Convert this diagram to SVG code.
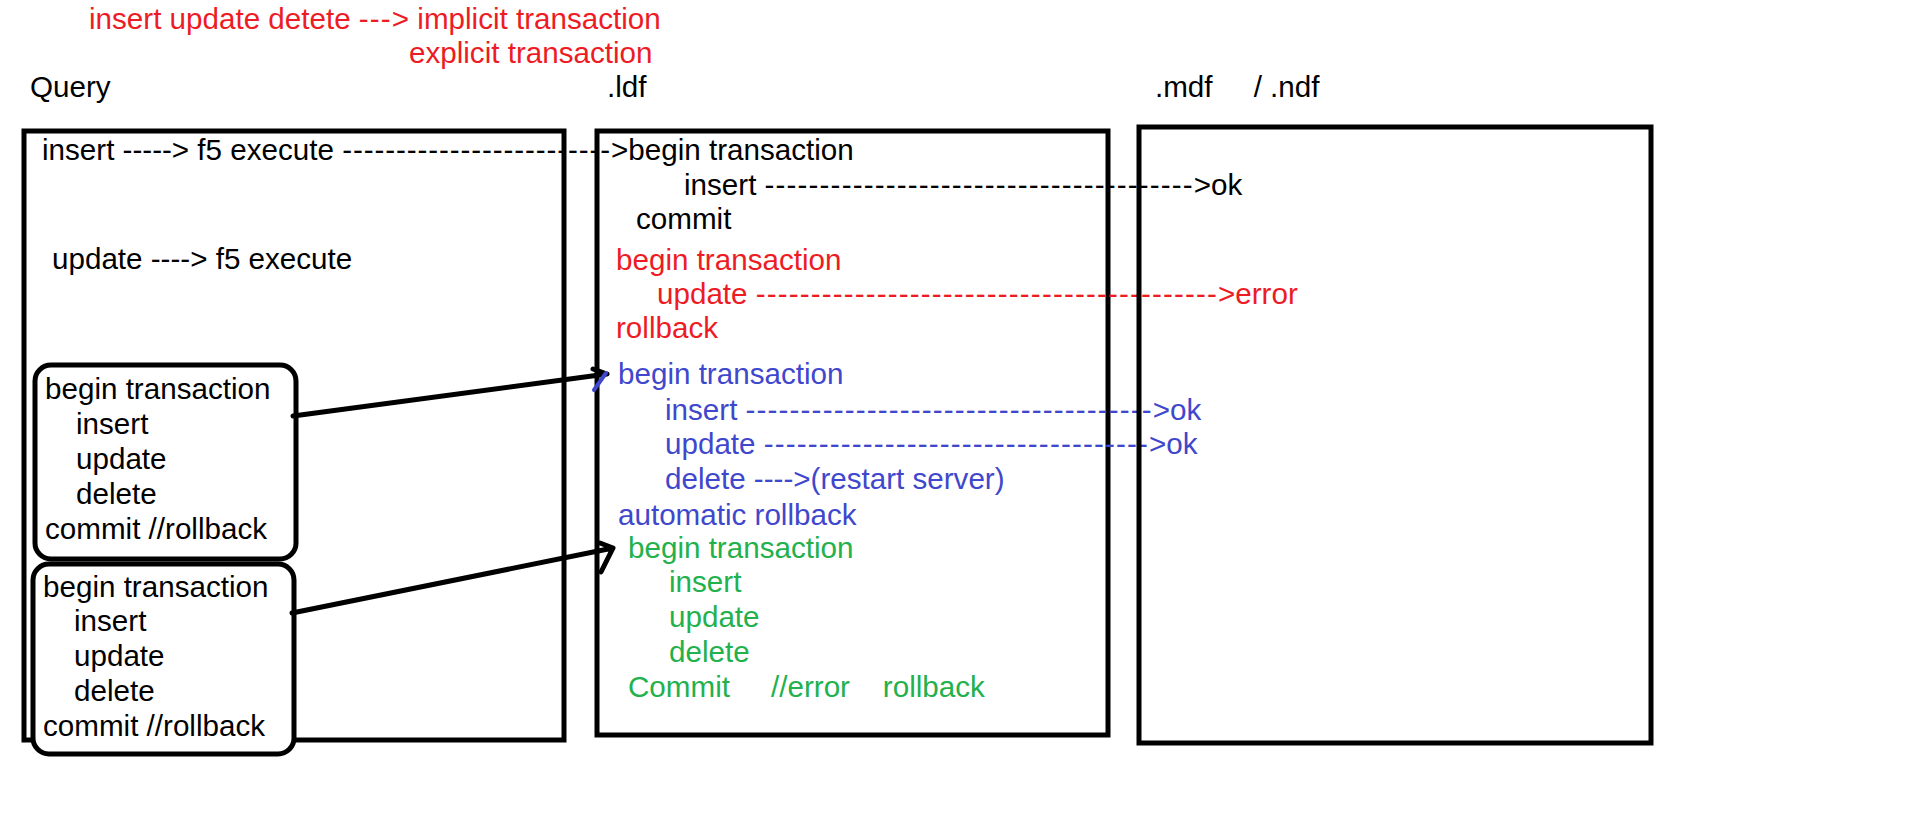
<svg xmlns="http://www.w3.org/2000/svg" width="1914" height="813" viewBox="0 0 1914 813">
<style>
text{font-family:"Liberation Sans",Arial,sans-serif;font-size:29.6px;}
.d{letter-spacing:1.15px}
.d2{letter-spacing:0.9px}
.k{fill:#000}.r{fill:#ED1C24}.b{fill:#3F48CC}.g{fill:#22B14C}
.box{fill:none;stroke:#000;stroke-width:5}
.rbox{fill:#fff;stroke:#000;stroke-width:5}
.conn{fill:none;stroke:#000;stroke-width:5;stroke-linecap:round;stroke-linejoin:round}
</style>
<rect width="1914" height="813" fill="#fff"/>
<g id="title">
<text class="r" x="89" y="29">insert update detete <tspan class="d">---</tspan>&gt; implicit transaction</text>
<text class="r" x="409" y="63">explicit transaction</text>
</g>
<g id="query">
<text class="k" x="30" y="97">Query</text>
<rect class="box" x="24" y="131" width="540" height="609"/>
<text class="k" x="42" y="160">insert -----&gt; f5 execute <tspan class="d2">-------------------------</tspan>&gt;begin transaction</text>
<text class="k" x="52" y="269">update ----&gt; f5 execute</text>
</g>
<g id="ldf">
<text class="k" x="607" y="97">.ldf</text>
<rect class="box" x="597" y="131" width="511" height="604"/>
<text class="k" x="684" y="195">insert <tspan class="d">---------------------------------------</tspan>&gt;ok</text>
<text class="k" x="636" y="229">commit</text>
<text class="r" x="616" y="270">begin transaction</text>
<text class="r" x="657" y="304">update <tspan class="d">------------------------------------------</tspan>&gt;error</text>
<text class="r" x="616" y="338">rollback</text>
<text class="b" x="618" y="384">begin transaction</text>
<text class="b" x="665" y="420">insert <tspan class="d">-------------------------------------</tspan>&gt;ok</text>
<text class="b" x="665" y="454">update <tspan class="d">-----------------------------------</tspan>&gt;ok</text>
<text class="b" x="665" y="489">delete ----&gt;(restart server)</text>
<text class="b" x="618" y="525">automatic rollback</text>
<text class="g" x="628" y="558">begin transaction</text>
<text class="g" x="669" y="592">insert</text>
<text class="g" x="669" y="627">update</text>
<text class="g" x="669" y="662">delete</text>
<text class="g" x="628" y="697" xml:space="preserve">Commit     //error    rollback</text>
</g>
<g id="mdf">
<text class="k" x="1155" y="97" xml:space="preserve">.mdf     / .ndf</text>
<rect class="box" x="1139" y="127" width="512" height="616"/>
</g>
<g id="tx1">
<rect class="rbox" x="35" y="365" width="261" height="194" rx="16"/>
<text class="k" x="45" y="399">begin transaction</text>
<text class="k" x="76" y="434">insert</text>
<text class="k" x="76" y="469">update</text>
<text class="k" x="76" y="504">delete</text>
<text class="k" x="45" y="539">commit //rollback</text>
</g>
<g id="tx2">
<rect class="rbox" x="33" y="564" width="261" height="190" rx="16"/>
<text class="k" x="43" y="597">begin transaction</text>
<text class="k" x="74" y="631">insert</text>
<text class="k" x="74" y="666">update</text>
<text class="k" x="74" y="701">delete</text>
<text class="k" x="43" y="736">commit //rollback</text>
</g>
<g id="connectors">
<path class="conn" d="M293 416 L607 374 M593 369 L607 374"/>
<path d="M594 390 L606 373" stroke="#3F48CC" stroke-width="4" stroke-linecap="round" fill="none"/>
<path class="conn" d="M292 613 L613 548 M600 543 L613 548 L601 572"/>
</g>
</svg>
